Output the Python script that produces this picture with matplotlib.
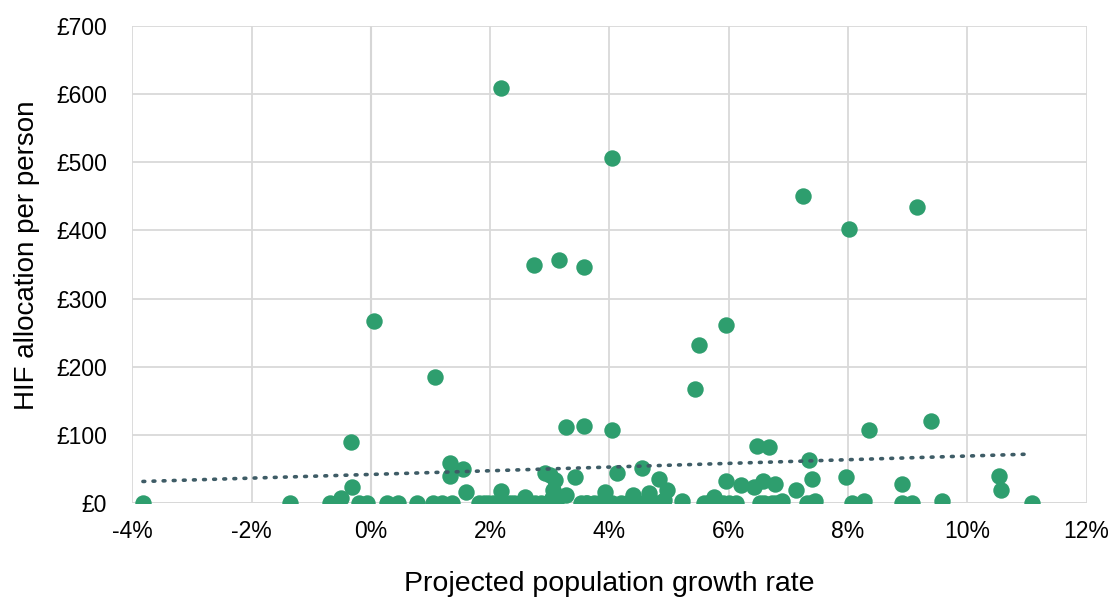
import numpy as np
import matplotlib.pyplot as plt
from matplotlib.ticker import FuncFormatter

plt.rcParams['font.family'] = ['Liberation Sans', 'DejaVu Sans']

# projected population growth rate (%) and HIF allocation per person (GBP)
growth = [2.18, 4.04, 2.73, 3.15, 3.57, 0.05, 1.07, 5.96, 5.51, 5.43,
          7.25, 8.02, 9.15, 9.40, 8.36, 3.28, 3.58, 4.05, -0.34, 6.47,
          6.68, 7.35, 1.32, 1.54, 1.32, 4.54, 4.12, -3.82, -1.36, -0.69,
          -0.50, -0.32, -0.20, -0.07, 0.28, 0.45, 0.77, 1.04, 1.19, 1.36,
          1.60, 1.82, 1.96, 2.18, 2.13, 2.33, 2.50, 2.58, 2.75, 2.95,
          3.00, 3.08, 3.05, 3.03, 3.05, 2.92, 3.42, 3.28, 3.53, 3.63,
          3.83, 3.92, 3.97, 4.04, 4.30, 4.39, 4.37, 4.56, 4.67, 4.72,
          4.84, 4.96, 4.92, 5.21, 5.59, 5.76, 5.90, 6.13, 5.96, 6.20,
          6.43, 6.57, 6.78, 6.52, 6.72, 6.90, 7.13, 7.39, 7.32, 7.45,
          7.97, 8.07, 8.27, 8.91, 8.91, 9.08, 9.58, 10.54, 10.57, 11.09,
          # overlapping points in the dense zero band
          1.90, 2.05, 2.40, 2.65, 2.85, 3.10, 3.60, 3.75, 3.90, 4.20,
          4.45, 4.65, 4.80, 5.65, 5.80, 6.00, 6.60, 6.80, 7.38]
allocation = [609, 506, 349, 357, 346, 267, 185, 261, 232, 167,
              451, 402, 434, 120, 107, 112, 113, 107, 90, 84,
              82, 63, 59, 50, 40, 51, 44, 0, 0, 0,
              7, 24, 0, 0, 0, 0, 0, 0, 0, 0,
              16, 0, 0, 18, 0, 0, 0, 9, 0, 0,
              41, 34, 19, 7, 0, 44, 38, 12, 0, 0,
              0, 16, 0, 0, 0, 12, 0, 0, 15, 0,
              35, 19, 4, 3, 0, 9, 0, 0, 32, 26,
              23, 32, 28, 0, 0, 3, 20, 36, 0, 3,
              38, 0, 3, 28, 0, 0, 3, 40, 19, 0,
              0, 0, 0, 0, 0, 0, 0, 0, 0, 0,
              0, 0, 0, 0, 0, 0, 0, 0, 0]

x_ticks = np.arange(-4, 13, 2)
y_ticks = np.arange(0, 701, 100)

fig = plt.figure(figsize=(11.11, 5.99), dpi=100)
ax = fig.add_axes([0.119, 0.16, 0.859, 0.797])

ax.scatter(growth, allocation, s=140, color='#2e9e6e', zorder=3, linewidths=0)

# linear trendline
k, b = np.polyfit(growth, allocation, 1)
tx = np.array([min(growth), max(growth)])
ax.plot(tx, k * tx + b, color='#3e5c66', linewidth=2.6, linestyle=(0, (0.5, 2.3)),
        dash_capstyle='round', zorder=4)

ax.set_xlim(-4, 12)
ax.set_ylim(0, 700)
ax.set_xticks(x_ticks)
ax.set_yticks(y_ticks)
ax.xaxis.set_major_formatter(FuncFormatter(lambda v, p: f'{v:.0f}%'))
ax.yaxis.set_major_formatter(FuncFormatter(lambda v, p: f'£{v:.0f}'))
ax.grid(True, color='#d9d9d9', linewidth=1.3, zorder=0)
ax.axvline(0, color='#bfbfbf', linewidth=1.5, zorder=1)
ax.axhline(0, color='#d0d0d0', linewidth=2, zorder=1)
for s in ax.spines.values():
    s.set_visible(False)
ax.tick_params(length=0, labelsize=16.5, pad=12)
ax.tick_params(axis='y', pad=18)
ax.set_xlabel('Projected population growth rate', fontsize=20.5, labelpad=20)
ax.set_ylabel('HIF allocation per person', fontsize=20, labelpad=14)
ax.yaxis.set_label_coords(-0.097, 0.52)

plt.savefig('out.png', dpi=100)
